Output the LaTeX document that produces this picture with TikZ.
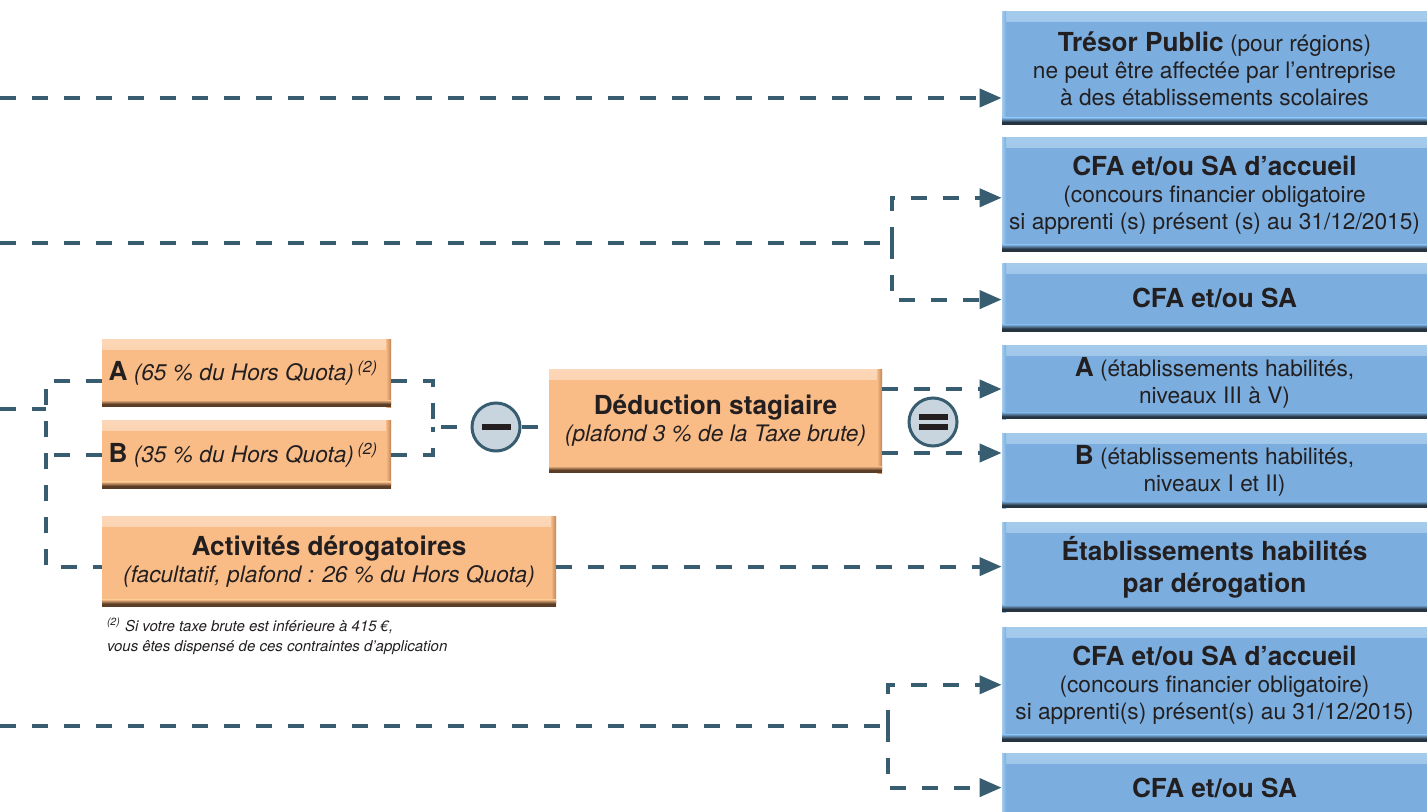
\documentclass[tikz,border=0pt]{standalone}
\usepackage{fontspec}
\setmainfont{TeX Gyre Heros}
\usetikzlibrary{positioning, arrows.meta}
\definecolor{taBlue}{RGB}{123,174,222}
\definecolor{taLightBlue}{RGB}{165,203,236}
\definecolor{taDarkBlue}{RGB}{38,52,66}
\definecolor{taOrange}{RGB}{249,188,135}
\definecolor{taLightOrange}{RGB}{252,215,184}
\definecolor{taBrown}{RGB}{92,62,38}
\definecolor{taEdge}{RGB}{190,132,88}
\definecolor{taTeal}{RGB}{56,92,112}
\definecolor{taGrey}{RGB}{200,213,222}
\definecolor{taInk}{RGB}{35,31,32}
\newcommand{\taTitle}[1]{{\fontsize{13.1}{13.5}\selectfont\bfseries #1}}

\begin{document}
\begin{tikzpicture}[x=0.5pt, y=-0.5pt, node distance=6pt,
  bluebox/.style={rectangle, fill=taBlue, minimum width=212.5pt, inner sep=2pt, align=center, text=taInk,
    font=\fontsize{11.35}{13.5}\selectfont,
    path picture={
      \shade[top color=taLightBlue, bottom color=taBlue] (path picture bounding box.north west) rectangle ([yshift=-5pt]path picture bounding box.north east);
      \shade[left color=taLightBlue, right color=taBlue] (path picture bounding box.north west) rectangle ([xshift=2pt]path picture bounding box.south west);
      \fill[taDarkBlue] (path picture bounding box.south west) rectangle ([yshift=1.5pt]path picture bounding box.south east);
      \shade[top color=taBlue, bottom color=taDarkBlue] ([yshift=1.5pt]path picture bounding box.south west) rectangle ([yshift=3.5pt]path picture bounding box.south east);
    }},
  orangebox/.style={rectangle, fill=taOrange, inner sep=2pt, align=center, text=taInk,
    font=\fontsize{11.35}{13.5}\selectfont,
    path picture={
      \shade[top color=taLightOrange, bottom color=taOrange] (path picture bounding box.north west) rectangle ([yshift=-5pt]path picture bounding box.north east);
      \shade[left color=taOrange, right color=taEdge] ([xshift=-2.5pt]path picture bounding box.north east) rectangle (path picture bounding box.south east);
      \fill[taBrown] (path picture bounding box.south west) rectangle ([yshift=1.5pt]path picture bounding box.south east);
      \shade[top color=taOrange, bottom color=taBrown] ([yshift=1.5pt]path picture bounding box.south west) rectangle ([yshift=3.5pt]path picture bounding box.south east);
    }},
  opcircle/.style={circle, draw=taTeal, line width=1.5pt, fill=taGrey, minimum size=24pt, inner sep=0pt},
  minussign/.style={path picture={
      \fill[taInk] ([xshift=-7.25pt,yshift=-1.5pt]path picture bounding box.center) rectangle ([xshift=7.25pt,yshift=1.5pt]path picture bounding box.center);
    }},
  equalsign/.style={path picture={
      \fill[taInk] ([xshift=-7.25pt,yshift=1pt]path picture bounding box.center) rectangle ([xshift=7.25pt,yshift=4pt]path picture bounding box.center);
      \fill[taInk] ([xshift=-7.25pt,yshift=-4pt]path picture bounding box.center) rectangle ([xshift=7.25pt,yshift=-1pt]path picture bounding box.center);
    }},
  link/.style={draw=taTeal, line width=2pt, dash pattern=on 8pt off 8pt},
  linkarrow/.style={link, -{Triangle[length=11pt, width=9pt]}}]
  \useasboundingbox (0,0) rectangle (1427,812);

  \node[bluebox, minimum height=56.5pt] (tresor) at (1214.5,68.5) {
    \taTitle{Trésor Public} (pour régions)\\
    ne peut être affectée par l'entreprise\\
    à des établissements scolaires
  };
  \node[bluebox, minimum height=57pt, below=6pt of tresor] (cfaOne) {
    \taTitle{CFA et/ou SA d'accueil}\\
    (concours financier obligatoire\\
    si apprenti (s) présent (s) au 31/12/2015)
  };
  \node[bluebox, minimum height=34pt, below=5.5pt of cfaOne] (cfaTwo) {\taTitle{CFA et/ou SA}};
  \node[bluebox, minimum height=37pt, below=6.5pt of cfaTwo] (habA) {
    \taTitle{A} (établissements habilités,\\
    niveaux III à V)
  };
  \node[bluebox, minimum height=37.5pt, below=6.5pt of habA] (habB) {
    \taTitle{B} (établissements habilités,\\
    niveaux I et II)
  };
  \node[bluebox, minimum height=45pt, below=6.5pt of habB] (habDerog) {
    \taTitle{Établissements habilités}\\[2.5pt]
    \taTitle{par dérogation}
  };
  \node[bluebox, minimum height=57pt, below=7.5pt of habDerog] (cfaThree) {
    \taTitle{CFA et/ou SA d'accueil}\\
    (concours financier obligatoire)\\
    si apprenti(s) présent(s) au 31/12/2015)
  };
  \node[bluebox, minimum height=34pt, below=5.5pt of cfaThree] (cfaFour) {\taTitle{CFA et/ou SA}};

  \node[orangebox, minimum width=144.5pt, minimum height=34pt] (quotaA) at (246.5,373) {
    \taTitle{A} \textit{(65~\% du Hors Quota)}\,\textsuperscript{\textit{(2)}}
  };
  \node[orangebox, minimum width=144.5pt, minimum height=34pt, below=6.5pt of quotaA] (quotaB) {
    \taTitle{B} \textit{(35~\% du Hors Quota)}\,\textsuperscript{\textit{(2)}}
  };
  \node[orangebox, minimum width=227pt, minimum height=45pt, anchor=north west] (derog) at ([yshift=-13.5pt]quotaB.south west) {
    \taTitle{Activités dérogatoires}\\
    \textit{(facultatif, plafond~: 26~\% du Hors Quota)}
  };
  \node[orangebox, minimum width=166.5pt, minimum height=52pt] (stage) at (715.5,421) {
    \taTitle{Déduction stagiaire}\\
    \textit{(plafond 3~\% de la Taxe brute)}
  };
  \node[opcircle, minussign] (minus) at (496,427) {};
  \node[opcircle, equalsign] (equal) at (933,422) {};
  \node[anchor=north west, align=left, inner sep=0pt, text=taInk, font=\fontsize{7.5}{10}\selectfont\itshape] (note) at ([xshift=2.5pt,yshift=-5pt]derog.south west) {
    \textsuperscript{(2)} Si votre taxe brute est inférieure à 415~€,\\
    vous êtes dispensé de ces contraintes d'application
  };

  \coordinate (inTresor) at (0,98);
  \coordinate (inCfa) at (0,243);
  \coordinate (forkCfa) at (892,243);
  \coordinate (inQuota) at (0,409);
  \coordinate (forkQuota) at (46,409);
  \coordinate (joinQuota) at (433,427);
  \coordinate (inApp) at (0,726);
  \coordinate (forkApp) at (888,726);

  \draw[linkarrow] (inTresor) -- (inTresor -| tresor.west);
  \draw[link] (inCfa) -- (forkCfa);
  \draw[linkarrow] (forkCfa) |- ([yshift=-1.5pt]cfaOne.west);
  \draw[linkarrow] (forkCfa) |- ([yshift=-1pt]cfaTwo.west);
  \draw[link] (inQuota) -- (forkQuota);
  \draw[link] ([yshift=-4pt]quotaA.west) -| (forkQuota) |- ([yshift=-2.5pt]derog.west);
  \draw[link] (quotaB.west) -- (quotaB.west -| forkQuota);
  \draw[link] ([yshift=-4pt]quotaA.east) -| (joinQuota) -- (minus);
  \draw[link] (quotaB.east) -| (joinQuota);
  \draw[link] (minus) -- (minus -| stage.west);
  \draw[linkarrow] ([yshift=16pt]stage.east) -- ([yshift=16pt]stage.east -| habA.west);
  \draw[linkarrow] ([yshift=-16pt]stage.east) -- ([yshift=-16pt]stage.east -| habB.west);
  \draw[linkarrow] ([yshift=-2.5pt]derog.east) -- ([yshift=-2.5pt]derog.east -| habDerog.west);
  \draw[link] (inApp) -- (forkApp);
  \draw[linkarrow] (forkApp) |- (cfaThree.west);
  \draw[linkarrow] (forkApp) |- (cfaFour.west);
\end{tikzpicture}
\end{document}
